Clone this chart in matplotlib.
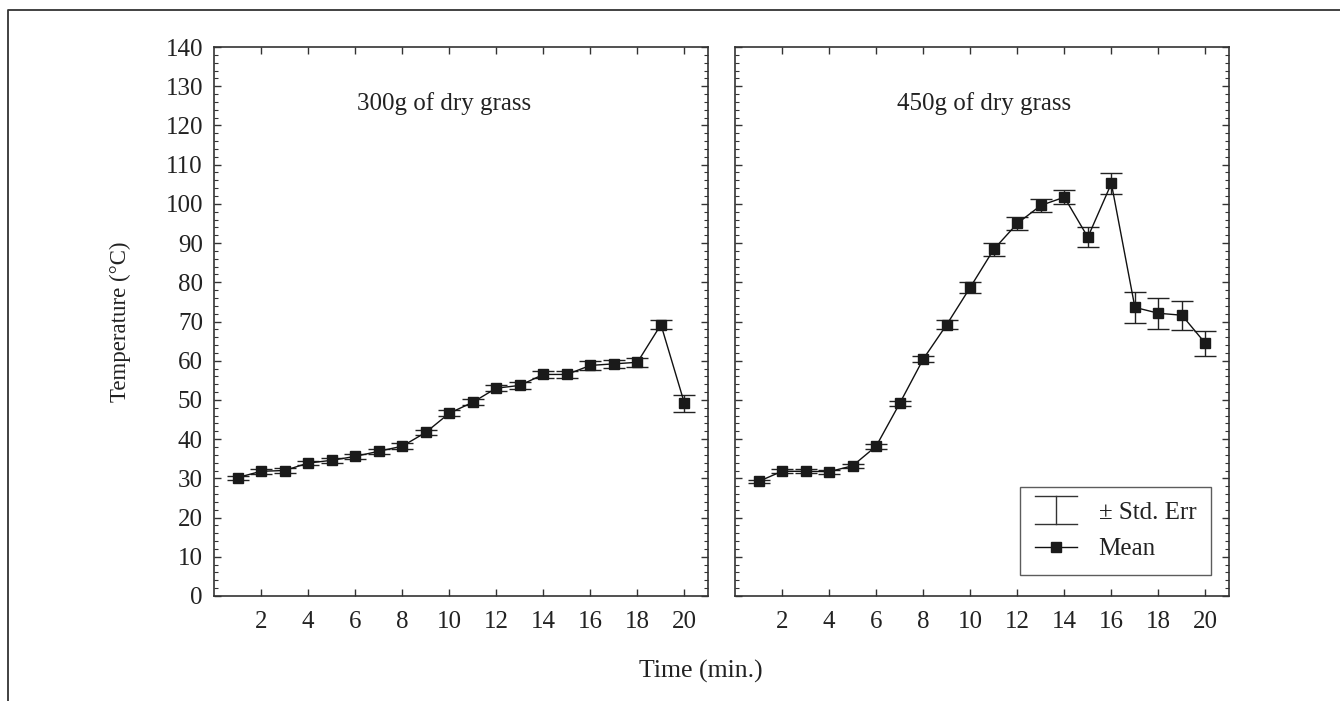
import matplotlib
matplotlib.use("Agg")
import matplotlib.pyplot as plt
from matplotlib.lines import Line2D
from matplotlib.legend_handler import HandlerBase
from matplotlib.ticker import MultipleLocator
import numpy as np

plt.rcParams['font.family'] = ['Liberation Serif', 'DejaVu Serif']

time = list(range(1, 21))
mean_300 = [30.2, 31.8, 32.0, 33.9, 34.6, 35.6, 36.9, 38.2, 41.7, 46.6,
            49.4, 53.0, 53.7, 56.5, 56.5, 58.8, 59.2, 59.6, 69.2, 49.1]
se_300 = [0.5, 0.6, 0.6, 0.6, 0.6, 0.6, 0.6, 0.7, 0.7, 0.8,
          0.8, 0.8, 0.8, 1.0, 1.0, 1.1, 1.1, 1.15, 1.15, 2.2]
mean_450 = [29.2, 31.8, 31.8, 31.7, 33.2, 38.2, 49.1, 60.4, 69.2, 78.7,
            88.4, 95.0, 99.6, 101.7, 91.5, 105.2, 73.6, 72.1, 71.6, 64.4]
se_450 = [0.5, 0.5, 0.5, 0.5, 0.5, 0.6, 0.6, 0.85, 1.07, 1.4,
          1.7, 1.65, 1.7, 1.8, 2.55, 2.7, 3.9, 3.9, 3.7, 3.1]
titles = ["300g of dry grass", "450g of dry grass"]
xticks = list(range(2, 21, 2))
yticks = list(range(0, 141, 10))

W, H = 1340, 701
fig = plt.figure(figsize=(W / 100, H / 100), dpi=100)

# outer frame (top and left visible)
fig.add_artist(Line2D([8 / W, 8 / W, 1.0], [0.0, 1 - 10 / H, 1 - 10 / H],
                      transform=fig.transFigure, color='#333333', lw=1.3))

def px_axes(x0, x1, y0, y1):
    return fig.add_axes([x0 / W, 1 - y1 / H, (x1 - x0) / W, (y1 - y0) / H])

axL = px_axes(214, 708, 47, 596)
axR = px_axes(735, 1229, 47, 596)

FS = 18
spine_col = '#333333'
for ax, m, s, t, tx in [(axL, mean_300, se_300, titles[0], 9.8),
                        (axR, mean_450, se_450, titles[1], 10.6)]:
    ax.errorbar(time, m, yerr=s, fmt='none', ecolor='#222222', elinewidth=1.0,
                capsize=7.9, capthick=1.0, zorder=2)
    ax.plot(time, m, color='#111111', lw=1.0, marker='s', markersize=6.5,
            markerfacecolor='#1a1a1a', markeredgecolor='#1a1a1a', zorder=3)
    ax.set_xlim(0, 21)
    ax.set_ylim(0, 140)
    ax.set_xticks(xticks)
    ax.set_yticks(yticks)
    ax.yaxis.set_minor_locator(MultipleLocator(2))
    ax.tick_params(axis='both', which='both', direction='in', top=True, right=True,
                   color=spine_col, labelsize=FS, labelcolor='#222222')
    ax.tick_params(axis='both', which='major', length=5, width=1)
    ax.tick_params(axis='y', which='minor', length=3, width=0.8)
    ax.tick_params(axis='x', pad=11)
    ax.tick_params(axis='y', pad=8)
    for sp in ax.spines.values():
        sp.set_color(spine_col)
        sp.set_linewidth(1.2)
    ax.text(tx, 125.7, t, ha='center', va='center', fontsize=FS, color='#222222')

axR.tick_params(axis='y', labelleft=False)

fig.text(120 / W, 1 - 321.5 / H, "Temperature (°C)", rotation=90, ha='center',
         va='center', fontsize=16.5, color='#222222')
fig.text(701 / W, 1 - 671 / H, "Time (min.)", ha='center', va='center',
         fontsize=18.5, color='#222222')

class IHandler(HandlerBase):
    def create_artists(self, legend, orig_handle, xdescent, ydescent, width,
                       height, fontsize, trans):
        x0 = -xdescent
        x1 = x0 + width
        cx = (x0 + x1) / 2
        yb = -ydescent - 0.3 * height
        yt = -ydescent + 1.3 * height
        arts = [Line2D([cx, cx], [yb, yt]), Line2D([x0, x1], [yb, yb]),
                Line2D([x0, x1], [yt, yt])]
        for a in arts:
            a.set_color('#333333')
            a.set_linewidth(1.0)
            a.set_transform(trans)
        return arts

class IMarker:
    pass

se_handle = IMarker()
mean_handle = Line2D([], [], color='#111111', lw=1.0, marker='s', markersize=6.5,
                     markerfacecolor='#1a1a1a', markeredgecolor='#1a1a1a')
leg = axR.legend([se_handle, mean_handle], ["± Std. Err", "Mean"],
                 handler_map={IMarker: IHandler()}, loc='lower right',
                 bbox_to_anchor=(0.964, 0.0377), borderaxespad=0.0,
                 fontsize=FS, frameon=True, fancybox=False, handlelength=1.7,
                 handletextpad=0.85, labelspacing=0.55, borderpad=0.6)
leg.get_frame().set_edgecolor('#333333')
leg.get_frame().set_linewidth(1.0)
for txt in leg.get_texts():
    txt.set_color('#222222')

fig.savefig("out.png", dpi=100)
